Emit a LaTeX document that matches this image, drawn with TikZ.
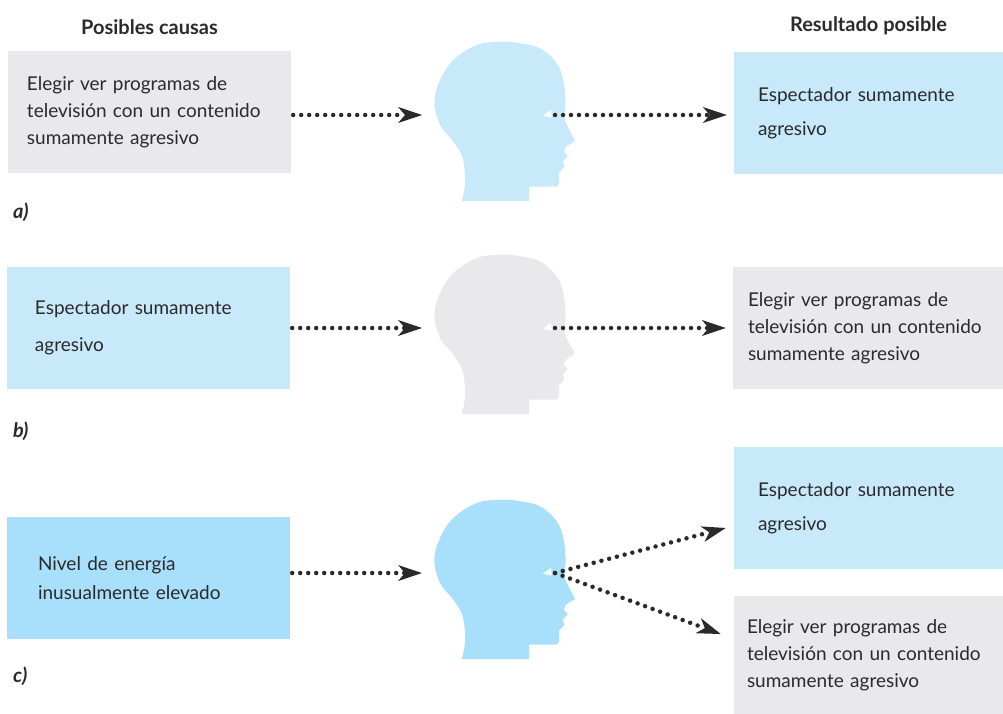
\documentclass[tikz,border=0pt]{standalone}
\usepackage{fontspec}
\setmainfont{Lato}
\usetikzlibrary{arrows.meta}
\usetikzlibrary{positioning}
\definecolor{boxgray}{HTML}{E9E9EB}
\definecolor{paleblue}{HTML}{C8E9FA}
\definecolor{strongblue}{HTML}{A8DFFB}
\definecolor{inkgray}{HTML}{2B2A2B}
\tikzset{
  boxnode/.style n args={3}{fill=#1, minimum width=#2, minimum height=122pt, text width=#2,
    inner xsep=0pt, inner ysep=0pt, text=inkgray, font=\fontsize{19}{27}\selectfont,
    execute at begin node={\raggedright\leftskip=#3\relax\parindent=0pt\relax}},
  heading/.style={text=inkgray, font=\fontsize{20}{24}\selectfont\bfseries},
  panelmark/.style={text=inkgray, inner sep=0pt, font=\fontsize{20}{24}\selectfont\bfseries\itshape},
  dotline/.style={line width=4.5pt, inkgray, line cap=round, dash pattern=on 0pt off 8pt,
    -{Stealth[length=24pt,width=16pt,inset=7pt,line width=0pt]}},
  pics/head/.style={code={
    \fill[#1] (-93.3,86) -- (-26,86) -- (-26,71.7) -- (-1.7,71.7)
      .. controls (2,71.7) and (4,71) .. (4,68.3) -- (4,57.7) -- (9.3,51.7)
      -- (7.7,46.7) -- (12.7,41) -- (9,36.7) -- (10.7,31.7) -- (20,26) -- (10,6.7)
      -- (9.5,3) -- (10.7,-13.3)
      plot[smooth, tension=.6] coordinates {(10.7,-13.3) (8.3,-35) (1.7,-51.7) (-15,-66.7)
        (-38.3,-72.3) (-55,-73.3) (-78.3,-70) (-101.7,-55) (-115,-35) (-120.7,-13.3)
        (-115,10) (-101.7,26.7) (-92.3,43.3) (-90,68.3) (-93.3,86)} -- cycle;
    \fill[white] (-4,-5) -- (-12.3,0.7) -- (-3.3,2.7) -- cycle;
    \coordinate (-eye) at (0,0);
    \coordinate (-back) at (-133,0);
  }},
}
\begin{document}
\begin{tikzpicture}[x=1pt,y=-1pt]
  \useasboundingbox (0,0) rectangle (1003,714);

  % left column
  \node[boxnode={boxgray}{283pt}{19pt}] (cause1) at (149.5,112) {Elegir ver programas de\\televisión con un contenido\\sumamente agresivo};
  \node[boxnode={paleblue}{283pt}{28pt}] (cause2) at (148.5,328) {\vspace*{10pt}Espectador sumamente\\agresivo};
  \node[boxnode={strongblue}{283pt}{31pt}] (cause3) at (148.5,578) {\vspace*{2pt}Nivel de energía\\inusualmente elevado};

  % right column
  \node[boxnode={paleblue}{269pt}{24pt}] (result1) at (868.5,113) {\vspace*{7pt}Espectador sumamente\\agresivo};
  \node[boxnode={boxgray}{270pt}{15pt}] (result2) at (868,328) {Elegir ver programas de\\televisión con un contenido\\sumamente agresivo};
  \node[boxnode={paleblue}{269pt}{24pt}] (result3) at (868.5,508) {\vspace*{7pt}Espectador sumamente\\agresivo};
  \node[boxnode={boxgray}{269pt}{13pt}, minimum height=118pt] (result4) at (868.5,655) {Elegir ver programas de\\televisión con un contenido\\sumamente agresivo};

  \node[heading, above=13pt of cause1] (causes) {Posibles causas};
  \node[heading, above=13pt of result1] (outcomes) {Resultado posible};

  \node[panelmark, below right=29pt and 5pt of cause1.south west] (marka) {a)};
  \node[panelmark, below right=32pt and 6pt of cause2.south west] (markb) {b)};
  \node[panelmark, below right=27pt and 6pt of cause3.south west] (markc) {c)};

  \pic (head1) at (555,115) {head=paleblue};
  \pic (head2) at (555,328) {head=boxgray};
  \pic (head3) at (555,573) {head=strongblue};

  \coordinate (tip1) at (725.7,528);
  \coordinate (tip2) at (720.7,634);

  \draw[dotline] ([xshift=2pt]cause1.east |- head1-eye) -- (head1-back);
  \draw[dotline] ([xshift=2pt]cause2.east |- head2-eye) -- (head2-back);
  \draw[dotline] ([xshift=2pt]cause3.east |- head3-eye) -- (head3-back);

  \draw[dotline, shorten >=7pt] (head1-eye) -- (result1.west |- head1-eye);
  \draw[dotline, shorten >=7pt] (head2-eye) -- (result2.west |- head2-eye);
  \draw[dotline] (head3-eye) -- (tip1);
  \draw[dotline] (head3-eye) -- (tip2);
\end{tikzpicture}
\end{document}
